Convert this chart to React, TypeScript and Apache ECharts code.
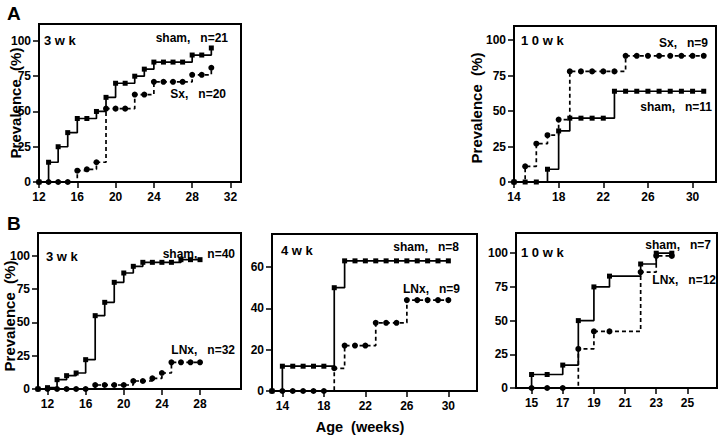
import React, { useEffect, useRef } from "react";
import * as echarts from "echarts";

// ---- data ----
// Panel A, 3 wk
const a1Weeks = [12, 13, 14, 15, 16, 17, 18, 19, 20, 21, 22, 23, 24, 25, 26, 27, 28, 29, 30];
const a1Sham = [0, 14, 25, 35, 45, 45, 50, 60, 70, 70, 75, 80, 85, 85, 85, 85, 90, 90, 95];
const a1Sx = [0, 0, 0, 0, 8, 9, 14, 52, 52, 52, 62, 62, 71, 71, 71, 71, 76, 76, 81];
// Panel A, 10 wk
const a2Weeks = [14, 15, 16, 17, 18, 19, 20, 21, 22, 23, 24, 25, 26, 27, 28, 29, 30, 31];
const a2Sham = [0, 0, 0, 9, 36, 45, 45, 45, 45, 64, 64, 64, 64, 64, 64, 64, 64, 64];
const a2Sx = [0, 11, 27, 33, 44, 78, 78, 78, 78, 78, 89, 89, 89, 89, 89, 89, 89, 89];
// Panel B, 3 wk
const b1Weeks = [11, 12, 13, 14, 15, 16, 17, 18, 19, 20, 21, 22, 23, 24, 25, 26, 27, 28];
const b1Sham = [0, 1, 7, 10, 12, 22, 55, 65, 80, 87, 92, 95, 95, 95, 95, 97, 97, 97];
const b1LNx = [0, 0, 0, 0, 0, 0, 3, 3, 3, 3, 6, 6, 8, 12, 20, 20, 20, 20];
// Panel B, 4 wk
const b2Weeks = [13, 14, 15, 16, 17, 18, 19, 20, 21, 22, 23, 24, 25, 26, 27, 28, 29, 30];
const b2Sham = [0, 12, 12, 12, 12, 12, 50, 63, 63, 63, 63, 63, 63, 63, 63, 63, 63, 63];
const b2LNx = [0, 0, 0, 0, 0, 0, 11, 22, 22, 22, 33, 33, 33, 44, 44, 44, 44, 44];
// Panel B, 10 wk
const b3ShamWeeks = [15, 15, 16, 17, 18, 19, 20, 22, 23, 24];
const b3Sham = [0, 10, 10, 17, 50, 75, 83, 92, 100, 100];
const b3ShamHidden = [0]; // starting point without a marker
const b3LNxWeeks = [15, 16, 17, 18, 19, 20, 22, 23, 24];
const b3LNx = [0, 0, 0, 29, 42, 42, 86, 98, 98];

// tick labels
const yTicks100 = [0, 25, 50, 75, 100];
const yTicks60 = [0, 20, 40, 60];
const xTicksA1 = [12, 16, 20, 24, 28, 32];
const xTicksA2 = [14, 18, 22, 26, 30];
const xTicksB1 = [12, 16, 20, 24, 28];
const xTicksB2 = [14, 18, 22, 26, 30];
const xTicksB3 = [15, 17, 19, 21, 23, 25];

const FONT = '"Liberation Sans", Arial, Helvetica, sans-serif';

type Panel = {
  rect: [number, number, number, number];
  x: [number, number];
  y: [number, number];
  xTicks: number[];
  yTicks: number[];
};

const panels: Panel[] = [
  { rect: [39, 24, 202, 158], x: [12, 33.1], y: [0, 112], xTicks: xTicksA1, yTicks: yTicks100 },
  { rect: [514, 26, 202, 156], x: [14, 32.1], y: [0, 110], xTicks: xTicksA2, yTicks: yTicks100 },
  { rect: [38, 233, 203, 156], x: [11, 32.3], y: [0, 117], xTicks: xTicksB1, yTicks: yTicks100 },
  { rect: [272, 234, 205, 157], x: [13, 32.76], y: [0, 76], xTicks: xTicksB2, yTicks: yTicks60 },
  { rect: [516, 233, 201, 155], x: [14, 26.9], y: [0, 115], xTicks: xTicksB3, yTicks: yTicks100 },
];

function pairs(xs: number[], ys: number[], hidden: number[] = []) {
  return xs.map((x, i) =>
    hidden.includes(i) ? { value: [x, ys[i]], symbol: "none" } : [x, ys[i]]
  );
}

function stepSeries(idx: number, data: any[], dashed: boolean) {
  return {
    type: "line",
    xAxisIndex: idx,
    yAxisIndex: idx,
    step: "end",
    data,
    symbol: dashed ? "circle" : "rect",
    symbolSize: dashed ? 6 : 5,
    clip: false,
    silent: true,
    lineStyle: { color: "#000", width: 1.7, type: dashed ? [4, 3] : "solid" },
    itemStyle: { color: "#000" },
    z: dashed ? 3 : 4,
  };
}

function label(text: string, x: number, y: number, align: string, size = 12) {
  return {
    type: "text",
    x,
    y,
    silent: true,
    style: {
      text,
      fill: "#000",
      font: `bold ${size}px ${FONT}`,
      textAlign: align,
      textVerticalAlign: "middle",
    },
  };
}

function yTitle(x: number, y: number) {
  return {
    type: "text",
    x,
    y,
    rotation: Math.PI / 2,
    silent: true,
    style: {
      text: "Prevalence  (%)",
      fill: "#000",
      font: `bold 15px ${FONT}`,
      textAlign: "center",
      textVerticalAlign: "middle",
    },
  };
}

export default function App() {
  const ref = useRef<HTMLDivElement>(null);

  useEffect(() => {
    if (!ref.current) return;
    const chart = echarts.init(ref.current, null, { renderer: "svg" });

    const axisCommon = {
      type: "value",
      splitLine: { show: false },
      axisLine: { show: true, onZero: false, lineStyle: { color: "#000", width: 2 } },
    };

    const option: any = {
      animation: false,
      backgroundColor: "#fff",
      grid: panels.map((p) => ({
        left: p.rect[0],
        top: p.rect[1],
        width: p.rect[2],
        height: p.rect[3],
        show: true,
        borderColor: "#000",
        borderWidth: 2,
        backgroundColor: "transparent",
      })),
      xAxis: panels.map((p, i) => ({
        ...axisCommon,
        gridIndex: i,
        min: p.x[0],
        max: p.x[1],
        axisTick: {
          show: true,
          length: 6,
          customValues: p.xTicks,
          lineStyle: { color: "#000", width: 1.5 },
        },
        axisLabel: {
          customValues: p.xTicks,
          color: "#000",
          fontFamily: FONT,
          fontWeight: "bold",
          fontSize: 12,
          margin: 9,
        },
      })),
      yAxis: panels.map((p, i) => ({
        ...axisCommon,
        gridIndex: i,
        min: p.y[0],
        max: p.y[1],
        axisTick: {
          show: true,
          length: 6,
          customValues: p.yTicks,
          lineStyle: { color: "#000", width: 1.5 },
        },
        axisLabel: {
          customValues: p.yTicks,
          color: "#000",
          fontFamily: FONT,
          fontWeight: "bold",
          fontSize: 12,
          margin: 8,
        },
      })),
      series: [
        stepSeries(0, pairs(a1Weeks, a1Sx), true),
        stepSeries(0, pairs(a1Weeks, a1Sham), false),
        stepSeries(1, pairs(a2Weeks, a2Sx), true),
        stepSeries(1, pairs(a2Weeks, a2Sham), false),
        stepSeries(2, pairs(b1Weeks, b1LNx), true),
        stepSeries(2, pairs(b1Weeks, b1Sham), false),
        stepSeries(3, pairs(b2Weeks, b2LNx), true),
        stepSeries(3, pairs(b2Weeks, b2Sham), false),
        stepSeries(4, pairs(b3LNxWeeks, b3LNx), true),
        stepSeries(4, pairs(b3ShamWeeks, b3Sham, b3ShamHidden), false),
      ],
      graphic: [
        label("A", 7, 13, "left", 19),
        label("B", 7, 223, "left", 19),
        // A 3 wk
        label("3 w k", 44, 40, "left", 13),
        label("sham,   n=21", 228, 38, "right"),
        label("Sx,   n=20", 226, 94, "right"),
        // A 10 wk
        label("1 0 w k", 521, 40, "left", 13),
        label("Sx,   n=9", 708, 43, "right"),
        label("sham,   n=11", 712, 107, "right"),
        // B 3 wk
        label("3 w k", 46, 256, "left", 13),
        label("sham,   n=40", 235, 254, "right"),
        label("LNx,   n=32", 235, 350, "right"),
        // B 4 wk
        label("4 w k", 281, 250, "left", 13),
        label("sham,   n=8", 459, 247, "right"),
        label("LNx,   n=9", 460, 289, "right"),
        // B 10 wk
        label("1 0 w k", 521, 252, "left", 13),
        label("sham,   n=7", 711, 245, "right"),
        label("LNx,   n=12", 716, 280, "right"),
        // axis titles
        yTitle(15, 103),
        yTitle(476, 108),
        yTitle(9, 316),
        label("Age  (weeks)", 360, 427, "center", 14.5),
      ],
    };

    chart.setOption(option);
    return () => chart.dispose();
  }, []);

  return (
    <div
      ref={ref}
      style={{ position: "fixed", left: 0, top: 0, width: 720, height: 436, background: "#fff" }}
    />
  );
}
